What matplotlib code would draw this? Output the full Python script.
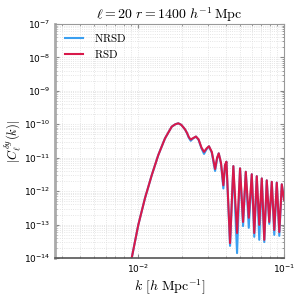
import matplotlib
matplotlib.use("Agg")
import matplotlib.pyplot as plt
import numpy as np

plt.rcParams['mathtext.fontset'] = 'cm'

# values
k = [0.0085, 0.00906, 0.01005, 0.01117, 0.01242, 0.01377, 0.01531, 0.01702,
     0.0180, 0.01888, 0.0198, 0.0210, 0.0217, 0.0223, 0.02296, 0.0237,
     0.02494, 0.0260, 0.0272, 0.02831, 0.0295, 0.0306, 0.0320, 0.0337,
     0.0348, 0.0357, 0.0370, 0.0384, 0.0394, 0.0403,
     0.04267, 0.04494, 0.04765, 0.04995, 0.05238, 0.05467,
     0.05731, 0.06009, 0.0625, 0.06501, 0.06761, 0.07035, 0.07317, 0.0761,
     0.07916, 0.08235, 0.08566, 0.08913, 0.09271, 0.09643, 0.1]
rsd = [3.4e-15, 1.0e-14, 9.8e-14, 6.2e-13, 3.0e-12, 1.2e-11, 3.8e-11, 8.5e-11,
       1.0e-10, 1.07e-10, 9.6e-11, 7.0e-11, 5.4e-11, 4.1e-11, 3.5e-11, 3.8e-11,
       4.3e-11, 3.5e-11, 2.0e-11, 1.5e-11, 1.9e-11, 2.2e-11, 1.5e-11, 4.6e-12,
       1.0e-11, 1.35e-11, 7.0e-12, 1.5e-12, 6.0e-12, 7.6e-12,
       2.8e-14, 5.6e-12, 5.6e-14, 4.8e-12, 1.2e-13, 3.8e-12,
       1.6e-13, 3.2e-12, 5.6e-14, 2.8e-12, 9.8e-14, 2.4e-12, 3.5e-14, 2.1e-12,
       1.2e-13, 1.9e-12, 6.9e-14, 1.8e-12, 6.0e-14, 1.6e-12, 5.5e-13]
nrsd = [3.4e-15, 1.0e-14, 9.8e-14, 6.2e-13, 3.0e-12, 1.2e-11, 3.8e-11, 8.5e-11,
        1.0e-10, 1.07e-10, 9.6e-11, 7.0e-11, 5.3e-11, 3.9e-11, 3.2e-11, 3.7e-11,
        4.3e-11, 3.4e-11, 1.9e-11, 1.3e-11, 1.8e-11, 2.2e-11, 1.4e-11, 4.0e-12,
        9.5e-12, 1.35e-11, 6.5e-12, 1.2e-12, 5.8e-12, 7.6e-12,
        2.3e-14, 5.6e-12, 1.4e-14, 4.8e-12, 9.0e-14, 3.8e-12,
        8.0e-14, 3.2e-12, 4.3e-14, 2.8e-12, 3.5e-14, 2.4e-12, 3.0e-14, 2.1e-12,
        1.05e-13, 1.9e-12, 4.9e-14, 1.8e-12, 4.6e-14, 1.6e-12, 5.5e-13]

fig = plt.figure(figsize=(3, 3), dpi=100)
ax = fig.add_axes([0.183, 0.14, 0.764, 0.78])

ax.loglog(k, nrsd, color='#3a9ff0', lw=1.5, label=r'$\rm NRSD$')
ax.loglog(k, rsd, color='#d8194a', lw=1.5, label=r'$\rm RSD$')

ax.set_xlim(2.7e-3, 0.1)
ax.set_ylim(1e-14, 1e-7)
ax.set_title(r'$\ell=20\ r=1400\ h^{-1}\,{\rm Mpc}$', fontsize=10, pad=3)
ax.set_xlabel(r'$k\ [h\ {\rm Mpc}^{-1}]$', fontsize=10, labelpad=2)
ax.set_ylabel(r'$|C_\ell^{\delta y}(k)|$', fontsize=9)
ax.yaxis.set_label_coords(-0.14, 0.5)

ax.grid(True, which='both', ls=':', color='#dddddd', lw=0.6)
ax.tick_params(which='both', direction='in', top=True, right=True,
               labelsize=6.5, color='#888888')
ax.tick_params(which='major', length=3)
ax.tick_params(which='minor', length=1.5)
ax.yaxis.set_major_locator(matplotlib.ticker.LogLocator(base=10, numticks=10))
ax.yaxis.set_minor_locator(matplotlib.ticker.LogLocator(base=10, subs=np.arange(2, 10), numticks=20))
ax.yaxis.set_minor_formatter(matplotlib.ticker.NullFormatter())

for s in ['top', 'right']:
    ax.spines[s].set_color('#999999')
    ax.spines[s].set_linewidth(0.8)
ax.spines['left'].set_color('#aaaaaa')
ax.spines['left'].set_linewidth(2)
ax.spines['bottom'].set_color('#555555')
ax.spines['bottom'].set_linewidth(1.2)

ax.legend(loc='upper left', frameon=False, fontsize=8, handlelength=1.6,
          handletextpad=1.0, borderaxespad=0.3, labelspacing=0.35,
          bbox_to_anchor=(0.01, 1.0))

plt.savefig('out.png', dpi=100)
